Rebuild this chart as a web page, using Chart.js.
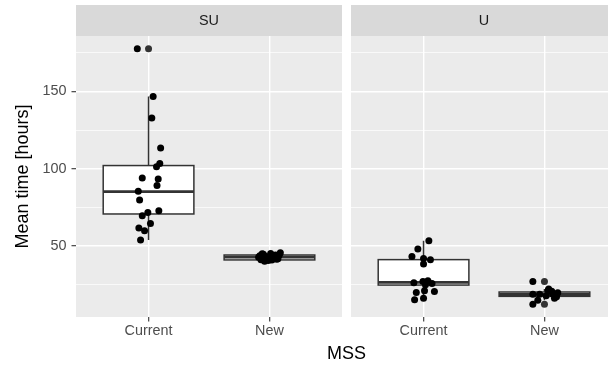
<!DOCTYPE html>
<html>
<head>
<meta charset="utf-8">
<script src="https://cdn.jsdelivr.net/npm/chart.js@4/dist/chart.umd.min.js"></script>
<style>
  html, body { margin: 0; padding: 0; width: 608px; height: 367px; overflow: hidden; background: #fff; }
  #wrap { position: relative; width: 622px; height: 367px; }
  canvas { position: absolute; top: 0; }
  #c1 { left: 0; }
  #c2 { left: 347px; }
  #xtitle { position: absolute; left: 0; width: 693px; top: 343px; line-height: 18px; text-align: center;
            font: 18px "Liberation Sans", Arial, sans-serif; color: #000; }
</style>
</head>
<body>
<div id="wrap">
  <canvas id="c1" width="347" height="367"></canvas>
  <canvas id="c2" width="275" height="367"></canvas>
  <div id="xtitle">MSS</div>
</div>
<script>
const facets = ['SU', 'U'];
const groups = ['Current', 'New'];
const yMin = 3.8, yMax = 186.0;

// box stats per group: [lower whisker, Q1, median, Q3, upper whisker]
const suBox = [[53.7, 70.6, 85.1, 102.0, 146.8], [39.8, 40.8, 42.6, 44.0, 45.6]];
const uBox = [[15.0, 24.5, 26.3, 41.0, 53.2], [14.7, 17.2, 18.4, 20.0, 21.9]];

// outliers (drawn at the group centre)
const suOutliers = [[177.7], []];
const uOutliers = [[], [26.8, 12.1]];

// jittered observations: values and horizontal offset from group centre
const suCurrentVal = [177.7, 146.8, 132.9, 113.4, 103.4, 101.3, 94.0, 93.3, 89.0, 85.3, 79.7, 72.7, 71.6, 69.5, 64.5, 61.5, 59.7, 53.7];
const suCurrentJit = [-0.093, 0.038, 0.027, 0.10, 0.093, 0.066, -0.052, 0.08, 0.07, -0.085, -0.074, 0.085, -0.006, -0.052, 0.016, -0.08, -0.033, -0.066];
const suNewVal = [42.5, 41.0, 44.5, 43.0, 40.5, 45.0, 42.0, 44.0, 41.5, 45.5, 43.5, 40.0, 41.8, 42.8, 43.8, 44.8, 40.8, 41.2];
const suNewJit = [-0.09, -0.07, -0.05, -0.03, -0.01, 0.01, 0.03, 0.05, 0.07, 0.09, -0.08, -0.04, 0.0, 0.04, 0.08, -0.06, 0.02, 0.06];
const uCurrentVal = [53.2, 47.9, 43.1, 41.8, 40.9, 38.1, 26.8, 27.3, 24.7, 19.7, 20.3, 20.8, 15.0, 16.0, 26.0, 25.5];
const uCurrentJit = [0.044, -0.047, -0.096, 0.0, 0.057, 0.0, -0.005, 0.036, 0.016, -0.06, 0.09, 0.008, -0.074, 0.0, -0.08, 0.07];
const uNewVal = [26.8, 18.6, 12.1, 21.9, 18.6, 16.0, 17.5, 18.6, 14.7, 20.5, 19.5, 17.0, 21.0];
const uNewJit = [-0.096, -0.096, -0.096, 0.035, 0.07, 0.083, 0.014, -0.04, -0.055, 0.06, 0.11, 0.1, 0.03];

const FONT = '"Liberation Sans", Arial, sans-serif';
const boxWidth = 0.75;

// grey panel + facet strip
const facetPanel = {
  id: 'facetPanel',
  beforeDraw(chart, args, opts) {
    const { ctx, chartArea: a } = chart;
    ctx.save();
    ctx.fillStyle = '#EBEBEB';
    ctx.fillRect(a.left, a.top, a.right - a.left, a.bottom - a.top);
    ctx.fillStyle = '#D9D9D9';
    ctx.fillRect(a.left, 5, a.right - a.left, a.top - 5);
    ctx.fillStyle = '#1A1A1A';
    ctx.font = '14.4px ' + FONT;
    ctx.textAlign = 'center';
    ctx.textBaseline = 'middle';
    ctx.fillText(opts.label, (a.left + a.right) / 2, (5 + a.top) / 2 + 1);
    ctx.restore();
  }
};

// boxes and whiskers, drawn through the chart scales
const boxPlot = {
  id: 'boxPlot',
  beforeDatasetsDraw(chart, args, opts) {
    const { ctx, scales: { x, y } } = chart;
    ctx.save();
    ctx.strokeStyle = '#333333';
    opts.stats.forEach((s, i) => {
      const cx = x.getPixelForValue(i + 1);
      const half = x.getPixelForValue(i + 1 + boxWidth / 2) - cx;
      const [lo, q1, med, q3, hi] = s.map(v => y.getPixelForValue(v));
      ctx.lineWidth = 1.5;
      ctx.beginPath();
      ctx.moveTo(cx, lo); ctx.lineTo(cx, q1);
      ctx.moveTo(cx, q3); ctx.lineTo(cx, hi);
      ctx.stroke();
      ctx.fillStyle = '#FFFFFF';
      ctx.fillRect(cx - half, q3, 2 * half, q1 - q3);
      ctx.strokeRect(cx - half, q3, 2 * half, q1 - q3);
      ctx.lineWidth = 2.8;
      ctx.beginPath();
      ctx.moveTo(cx - half, med); ctx.lineTo(cx + half, med);
      ctx.stroke();
    });
    ctx.restore();
  }
};

function points(vals, jit, centre) {
  return vals.map((v, i) => ({ x: centre + jit[i], y: v }));
}
function outlierPoints(list) {
  const out = [];
  list.forEach((vals, i) => vals.forEach(v => out.push({ x: i + 1, y: v })));
  return out;
}

function makeChart(id, label, stats, outliers, jitterData, first) {
  new Chart(document.getElementById(id), {
    type: 'scatter',
    data: {
      datasets: [
        { data: outlierPoints(outliers), backgroundColor: '#333333', borderWidth: 0, pointRadius: 3.5 },
        { data: jitterData, backgroundColor: '#000000', borderWidth: 0, pointRadius: 3.5 }
      ]
    },
    options: {
      responsive: false,
      animation: false,
      events: [],
      layout: { padding: { left: first ? 0 : 4, right: 5, top: 36, bottom: 0 } },
      plugins: {
        legend: { display: false },
        tooltip: { enabled: false },
        facetPanel: { label: label },
        boxPlot: { stats: stats }
      },
      scales: {
        x: {
          type: 'linear', min: 0.4, max: 2.6,
          afterBuildTicks: s => { s.ticks = [{ value: 1 }, { value: 2 }]; },
          afterFit: s => { s.height = 50; },
          border: { display: false },
          grid: { color: '#FFFFFF', lineWidth: 1.4, tickColor: '#333333', tickLength: 4.5, tickWidth: 1.1 },
          ticks: {
            padding: 1, color: '#4D4D4D', font: { size: 14.4, family: FONT },
            callback: (v, i) => groups[i]
          }
        },
        y: {
          min: yMin, max: yMax,
          afterFit: s => { s.width = first ? 76 : 0; },
          border: { display: false },
          grid: {
            color: '#FFFFFF',
            lineWidth: c => c.tick.value % 50 === 0 ? 1.4 : 0.7,
            drawTicks: first,
            tickColor: c => c.tick.value % 50 === 0 ? '#333333' : 'rgba(0,0,0,0)',
            tickLength: 4.5, tickWidth: 1.1
          },
          ticks: {
            display: first, stepSize: 25, includeBounds: false, padding: 5,
            color: '#4D4D4D', font: { size: 14.4, family: FONT },
            callback: v => v % 50 === 0 ? v : ''
          },
          title: {
            display: first, text: 'Mean time [hours]', color: '#000000',
            font: { size: 18, family: FONT }, padding: { top: 12, bottom: 0 }
          }
        }
      }
    },
    plugins: [facetPanel, boxPlot]
  });
}

makeChart('c1', facets[0], suBox, suOutliers,
  points(suCurrentVal, suCurrentJit, 1).concat(points(suNewVal, suNewJit, 2)), true);
makeChart('c2', facets[1], uBox, uOutliers,
  points(uCurrentVal, uCurrentJit, 1).concat(points(uNewVal, uNewJit, 2)), false);
</script>
</body>
</html>
